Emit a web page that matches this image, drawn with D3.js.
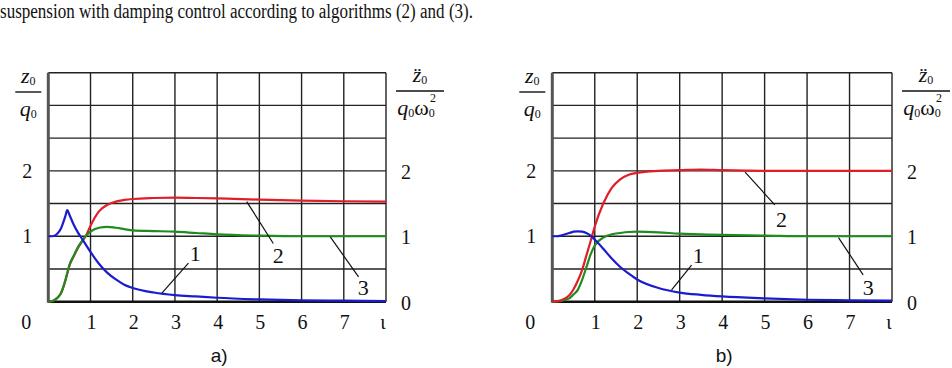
<!DOCTYPE html>
<html><head><meta charset="utf-8">
<script src="https://cdn.jsdelivr.net/npm/d3@7"></script>
<style>
body{margin:0;background:#fff;}
svg{display:block;}
</style></head>
<body>
<svg id="c" width="952" height="368"></svg>
<script>
const SERIF = "'Liberation Serif', 'Times New Roman', Tinos, 'DejaVu Serif', serif";
const SANS = "'Liberation Sans', Arial, sans-serif";
const t = [0,0.1,0.2,0.3,0.4,0.45,0.5,0.6,0.7,0.8,0.9,1.0,1.2,1.4,1.6,1.8,2.0,2.5,3,3.5,4,5,6,7,8];
// panel a
const blueA  = [1.0,1.0,1.03,1.12,1.3,1.40,1.33,1.18,1.06,0.96,0.86,0.76,0.58,0.44,0.34,0.26,0.21,0.14,0.10,0.08,0.06,0.035,0.02,0.015,0.01];
const redA   = [0,0.01,0.05,0.13,0.31,0.43,0.55,0.69,0.82,0.92,1.02,1.16,1.38,1.48,1.53,1.555,1.57,1.585,1.59,1.585,1.58,1.56,1.545,1.535,1.53];
const greenA = [0,0.01,0.05,0.13,0.32,0.44,0.56,0.70,0.83,0.93,1.01,1.07,1.13,1.145,1.13,1.11,1.09,1.08,1.07,1.05,1.03,1.01,1.0,1.0,1.0];
// panel b
const blueB  = [1.0,1.0,1.01,1.03,1.05,1.06,1.07,1.075,1.07,1.05,1.01,0.95,0.81,0.66,0.53,0.43,0.34,0.21,0.14,0.105,0.08,0.05,0.03,0.02,0.015];
const redB   = [0,0.005,0.02,0.05,0.1,0.14,0.19,0.32,0.48,0.7,0.92,1.15,1.5,1.74,1.87,1.94,1.97,2.0,2.01,2.02,2.01,2.0,2.0,2.0,2.0];
const greenB = [0,0.003,0.01,0.03,0.05,0.08,0.11,0.18,0.33,0.52,0.72,0.86,0.98,1.03,1.05,1.065,1.07,1.06,1.04,1.03,1.02,1.01,1.0,1.0,1.0];

const xTickLabels = ["1","2","3","4","5","6","7","ι"];
const xTickVals = [1,2,3,4,5,6,7,8];
const yTickLabels = ["0","1","2"];
const yTickVals = [0,1,2];
const curveNames = ["1","2","3"];
// annotations: [labelX,labelY, leaderX1,leaderY1, leaderX2,leaderY2] in data units
const annA = [[3.48,0.74,3.32,0.59,2.69,0.13],[5.45,0.71,4.70,1.53,5.33,0.89],[7.46,0.23,6.68,0.99,7.35,0.38]];
const annB = [[3.44,0.71,3.28,0.56,2.81,0.18],[5.40,1.27,4.54,1.98,5.24,1.48],[7.44,0.23,6.74,0.98,7.32,0.41]];
const panelTags = ["a)","b)"];

const svg = d3.select("#c");
svg.append("text").attr("font-family",SERIF).attr("x",0).attr("y",18)
  .attr("font-size",20).attr("textLength",473).attr("lengthAdjust","spacingAndGlyphs")
  .attr("fill","#111").text("suspension with damping control according to algorithms (2) and (3).");

const colors = {blue:"#1c1ccf", red:"#e01e28", green:"#1f8c1f"};

function txt(g, x, y, s, size, anchor){
  return g.append("text").attr("font-family",SERIF).attr("x",x).attr("y",y)
    .attr("text-anchor",anchor||"middle").attr("font-size",size).attr("fill","#111").text(s);
}

function panel(x0, x1, series, ann, tag){
  const x = d3.scaleLinear().domain([0,8]).range([x0,x1]);
  const y = d3.scaleLinear().domain([0,3.5]).range([301.7,72.7]);
  const g = svg.append("g");
  // grid
  g.selectAll(".vg").data(d3.range(1,9)).enter().append("line")
    .attr("x1",d=>x(d)).attr("x2",d=>x(d)).attr("y1",y(0)).attr("y2",y(3.5))
    .attr("stroke","#222").attr("stroke-width",1.4);
  g.selectAll(".hg").data(d3.range(0.5,3.51,0.5)).enter().append("line")
    .attr("x1",x(0)).attr("x2",x(8)).attr("y1",d=>y(d)).attr("y2",d=>y(d))
    .attr("stroke","#222").attr("stroke-width",1.4);
  // axes
  g.append("line").attr("x1",x(0)).attr("x2",x(0)).attr("y1",y(0)+1).attr("y2",y(3.5))
    .attr("stroke","#555").attr("stroke-width",3);
  g.append("line").attr("x1",x(0)).attr("x2",x(8)).attr("y1",y(0)).attr("y2",y(0))
    .attr("stroke","#111").attr("stroke-width",2.5);
  // curves
  const line = d3.line().x((d,i)=>x(t[i])).y(d=>y(d)).curve(d3.curveMonotoneX);
  series.forEach(s=>{
    g.append("path").attr("d",line(s.v)).attr("fill","none")
      .attr("stroke",s.c).attr("stroke-width",2.2);
  });
  // annotations
  ann.forEach((a,i)=>{
    g.append("line").attr("x1",x(a[2])).attr("y1",y(a[3])).attr("x2",x(a[4])).attr("y2",y(a[5]))
      .attr("stroke","#111").attr("stroke-width",1.2);
    txt(g, x(a[0]), y(a[1])+8, curveNames[i], 22);
  });
  // x tick labels
  xTickVals.forEach((v,i)=>{
    txt(g, x(v)+(i===7?-3:1), 329, xTickLabels[i], 20);
  });
  txt(g, x(0)-22, 329, "0", 20);
  // y tick labels
  yTickVals.forEach((v,i)=>{
    if(v>0) txt(g, x(0)-21, y(v)+7, yTickLabels[i], 20);
    txt(g, x(8)+20, y(v)+8, yTickLabels[i], 20);
  });
  // left fraction z0/q0
  const lx = x(0)-20;
  g.append("line").attr("x1",lx-13).attr("x2",lx+13).attr("y1",92).attr("y2",92).attr("stroke","#111").attr("stroke-width",1.4);
  const t1 = txt(g, lx, 83, "", 22);
  t1.append("tspan").attr("font-style","italic").text("z");
  t1.append("tspan").attr("font-size",12).attr("dy",2).text("0");
  const t2 = txt(g, lx, 116, "", 22);
  t2.append("tspan").attr("font-style","italic").text("q");
  t2.append("tspan").attr("font-size",12).attr("dy",2).text("0");
  // right fraction
  const rx = x(8)+34;
  g.append("line").attr("x1",rx-24).attr("x2",rx+24).attr("y1",91).attr("y2",91).attr("stroke","#111").attr("stroke-width",1.4);
  const t3 = txt(g, rx, 82, "", 22);
  t3.append("tspan").attr("font-style","italic").text("z\u0308");
  t3.append("tspan").attr("font-size",12).attr("dy",2).text("0");
  const t4 = txt(g, rx-4, 115, "", 22);
  t4.append("tspan").attr("font-style","italic").text("q");
  t4.append("tspan").attr("font-size",12).attr("dy",2).text("0");
  t4.append("tspan").attr("dy",-2).text("ω");
  t4.append("tspan").attr("font-size",12).attr("dy",2).text("0");
  txt(g, rx+13, 102, "2", 12);
  // tag
  g.append("text").attr("font-family",SANS).attr("x",(x0+x1)/2+2).attr("y",362)
    .attr("text-anchor","middle").attr("font-size",19).attr("fill","#111").text(tag);
}

panel(48.3, 386, [
  {v:redA,c:colors.red},{v:greenA,c:colors.green},{v:blueA,c:colors.blue}
], annA, panelTags[0]);
panel(552.3, 892, [
  {v:greenB,c:colors.green},{v:redB,c:colors.red},{v:blueB,c:colors.blue}
], annB, panelTags[1]);
</script>
</body></html>
